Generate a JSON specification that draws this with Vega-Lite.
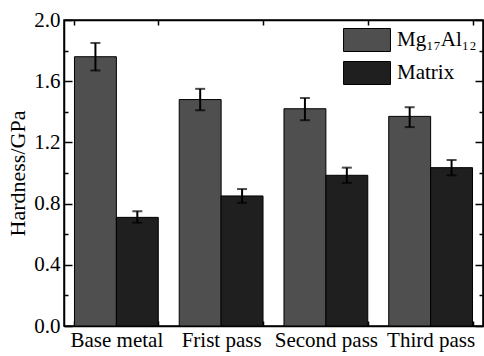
{
  "$schema": "https://vega.github.io/schema/vega-lite/v6.json",
  "width": 419,
  "height": 306,
  "autosize": {"type": "none"},
  "padding": {"left": 64, "top": 20, "right": 1, "bottom": 30},
  "background": "white",
  "config": {
    "view": {"stroke": "black", "strokeWidth": 1.5},
    "font": "Liberation Serif",
    "style": {
      "guide-label": {"font": "Liberation Serif", "fill": "black"},
      "guide-title": {"font": "Liberation Serif", "fill": "black"}
    },
    "axis": {
      "labelFont": "Liberation Serif",
      "titleFont": "Liberation Serif",
      "labelFontSize": 21,
      "titleFontSize": 22,
      "titleFontWeight": "normal",
      "labelColor": "black",
      "titleColor": "black",
      "domainColor": "black",
      "domainWidth": 1.5,
      "tickColor": "black",
      "tickWidth": 1.5,
      "grid": false
    },
    "legend": {
      "orient": "none",
      "legendX": 291,
      "legendY": 8,
      "padding": 0,
      "symbolType": "M-2.04,-1H2.04V1H-2.04Z",
      "symbolSize": 529,
      "symbolStrokeColor": "black",
      "symbolStrokeWidth": 1,
      "symbolOpacity": 1,
      "labelFont": "Liberation Serif",
      "labelFontSize": 21,
      "labelColor": "black",
      "labelOffset": 18,
      "rowPadding": 5
    }
  },
  "data": {
    "values": [
      {"pass": "Base metal", "phase": "Mg₁₇Al₁₂", "value": 1.76, "lo": 1.67, "hi": 1.85},
      {"pass": "Base metal", "phase": "Matrix", "value": 0.71, "lo": 0.675, "hi": 0.75},
      {"pass": "Frist pass", "phase": "Mg₁₇Al₁₂", "value": 1.48, "lo": 1.41, "hi": 1.55},
      {"pass": "Frist pass", "phase": "Matrix", "value": 0.85, "lo": 0.805, "hi": 0.895},
      {"pass": "Second pass", "phase": "Mg₁₇Al₁₂", "value": 1.42, "lo": 1.345, "hi": 1.49},
      {"pass": "Second pass", "phase": "Matrix", "value": 0.985, "lo": 0.935, "hi": 1.035},
      {"pass": "Third pass", "phase": "Mg₁₇Al₁₂", "value": 1.37, "lo": 1.30, "hi": 1.43},
      {"pass": "Third pass", "phase": "Matrix", "value": 1.035, "lo": 0.985, "hi": 1.085}
    ]
  },
  "encoding": {
    "x": {
      "field": "pass",
      "type": "nominal",
      "sort": ["Base metal", "Frist pass", "Second pass", "Third pass"],
      "scale": {"paddingInner": 0.2, "paddingOuter": 0.1},
      "axis": null
    },
    "xOffset": {
      "field": "phase",
      "type": "nominal",
      "sort": ["Mg₁₇Al₁₂", "Matrix"],
      "scale": {"paddingInner": 0, "paddingOuter": 0}
    }
  },
  "layer": [
    {
      "mark": {"type": "bar", "stroke": "black", "strokeWidth": 1},
      "encoding": {
        "x": {
          "field": "pass",
          "type": "nominal",
          "sort": ["Base metal", "Frist pass", "Second pass", "Third pass"],
          "axis": {
            "title": null,
            "labelAngle": 0,
            "labelFont": "Liberation Serif",
            "tickBand": "extent",
            "tickSize": -5,
            "labelPadding": 8,
            "domain": true
          }
        },
        "y": {
          "field": "value",
          "type": "quantitative",
          "scale": {"domain": [0, 2.0], "nice": false},
          "axis": {
            "title": "Hardness/GPa",
            "labelFont": "Liberation Serif",
            "titleFont": "Liberation Serif",
            "values": [0, 0.2, 0.4, 0.6, 0.8, 1.0, 1.2, 1.4, 1.6, 1.8, 2.0],
            "labelExpr": "round(datum.value*10) % 4 == 0 ? format(datum.value, '.1f') : ''",
            "tickSize": {"condition": {"test": "round(datum.value*10) % 4 != 0", "value": -4}, "value": -8},
            "labelPadding": 12,
            "titlePadding": 4
          }
        },
        "color": {
          "field": "phase",
          "type": "nominal",
          "sort": ["Mg₁₇Al₁₂", "Matrix"],
          "scale": {"domain": ["Mg₁₇Al₁₂", "Matrix"], "range": ["#4f4f4f", "#1f1f1f"]},
          "legend": {"title": null}
        }
      }
    },
    {
      "mark": {"type": "rule", "color": "black", "strokeWidth": 2},
      "encoding": {
        "x": {
          "field": "pass",
          "type": "nominal",
          "sort": ["Base metal", "Frist pass", "Second pass", "Third pass"],
          "axis": {
            "orient": "top",
            "title": null,
            "labels": false,
            "tickBand": "extent",
            "tickSize": -5,
            "domain": true
          }
        },
        "y": {
          "field": "lo",
          "type": "quantitative",
          "axis": {
            "orient": "right",
            "title": null,
            "labels": false,
            "values": [0, 0.2, 0.4, 0.6, 0.8, 1.0, 1.2, 1.4, 1.6, 1.8, 2.0],
            "tickSize": {"condition": {"test": "round(datum.value*10) % 4 != 0", "value": -4}, "value": -8}
          }
        },
        "y2": {"field": "hi"}
      }
    },
    {
      "mark": {"type": "tick", "color": "black", "thickness": 2, "size": 10},
      "encoding": {
        "y": {"field": "lo", "type": "quantitative", "axis": null}
      }
    },
    {
      "mark": {"type": "tick", "color": "black", "thickness": 2, "size": 10},
      "encoding": {
        "y": {"field": "hi", "type": "quantitative", "axis": null}
      }
    }
  ],
  "resolve": {"axis": {"x": "independent", "y": "independent"}}
}
